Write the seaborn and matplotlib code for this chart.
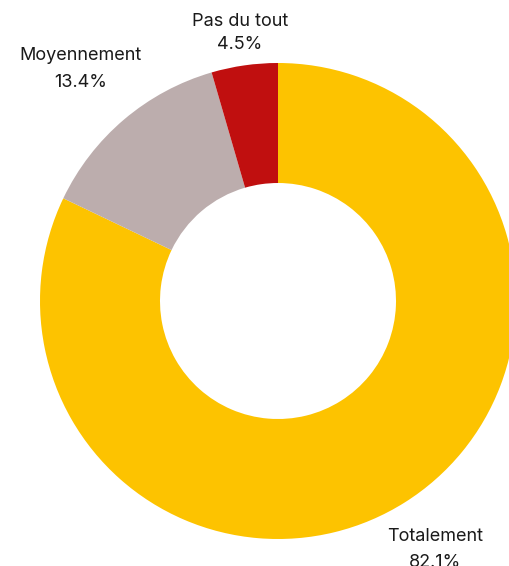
import numpy as np
import matplotlib
matplotlib.use("Agg")
import matplotlib.pyplot as plt
import seaborn as sns

# data
labels = ["Totalement", "Moyennement", "Pas du tout"]
values = [82.1, 13.4, 4.5]
colors = ["#FDC300", "#BCADAD", "#C00F0F"]

sns.set_theme(style="white")
plt.rcParams['font.family'] = ['Inter', 'DejaVu Sans']

fig = plt.figure(figsize=(5.10, 5.66), dpi=100)
ax = fig.add_axes([0, 0, 1, 1])

# donut geometry in pixel units
cx, cy, r = 278, 265, 238
hole = 118
label_dist = [1.235, 1.28, 1.137]
line_gap = [1.7, 1.8, 1.45]

wedges, _ = ax.pie(values, colors=colors, startangle=90, counterclock=False,
                   center=(cx, cy), radius=r,
                   wedgeprops=dict(width=r - hole, linewidth=0))

for w, lab, v, d, ls in zip(wedges, labels, values, label_dist, line_gap):
    mid = np.deg2rad((w.theta1 + w.theta2) / 2)
    x = cx + d * r * np.cos(mid)
    y = cy + d * r * np.sin(mid)
    ax.text(x, y, f"{lab}\n{v:.1f}%", ha="center", va="center",
            fontsize=13, color="#1a1a1a", linespacing=ls)

ax.set_xlim(0, 510)
ax.set_ylim(0, 566)
ax.set_aspect("equal")
ax.axis("off")

fig.savefig("out.png", dpi=100)
